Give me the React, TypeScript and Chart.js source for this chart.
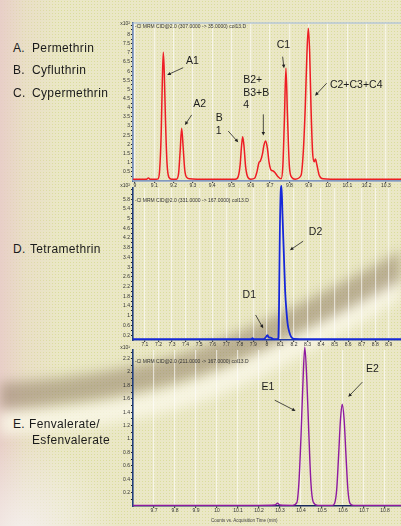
import React, { useEffect, useRef } from "react";
import { Chart, registerables } from "chart.js";
Chart.register(...registerables);

// ---------- Panel 1 : Permethrin / Cyfluthrin / Cypermethrin (x10^2 counts) ----------
const p1Time = [8.99, 9.03, 9.06, 9.07, 9.08, 9.11, 9.12, 9.128, 9.136, 9.142, 9.147, 9.152, 9.158, 9.166, 9.176, 9.19, 9.215, 9.226, 9.234, 9.242, 9.25, 9.258, 9.268, 9.285, 9.33, 9.4, 9.48, 9.52, 9.535, 9.545, 9.552, 9.558, 9.565, 9.573, 9.585, 9.6, 9.62, 9.632, 9.642, 9.65, 9.66, 9.668, 9.677, 9.686, 9.695, 9.705, 9.716, 9.726, 9.74, 9.757, 9.766, 9.774, 9.782, 9.79, 9.8, 9.812, 9.83, 9.86, 9.872, 9.882, 9.891, 9.898, 9.905, 9.912, 9.92, 9.928, 9.935, 9.942, 9.955, 9.975, 10.02, 10.1, 10.2, 10.3, 10.38];
const p1Val = [0.09, 0.09, 0.1, 0.16, 0.09, 0.1, 0.12, 0.6, 2.6, 5.5, 7.03, 5.9, 3.4, 1.0, 0.2, 0.1, 0.1, 0.4, 1.6, 2.88, 1.8, 0.6, 0.2, 0.12, 0.1, 0.09, 0.1, 0.1, 0.25, 0.9, 1.9, 2.42, 1.9, 0.8, 0.2, 0.1, 0.15, 0.5, 1.0, 1.1, 1.45, 1.95, 2.19, 1.8, 1.0, 0.6, 0.55, 0.45, 0.25, 0.12, 0.8, 3.3, 6.16, 3.6, 0.8, 0.2, 0.1, 0.3, 1.6, 4.0, 7.0, 8.34, 7.0, 4.0, 1.6, 1.05, 1.2, 0.9, 0.3, 0.12, 0.1, 0.09, 0.1, 0.09, 0.09];
const p1XTicks = [9, 9.1, 9.2, 9.3, 9.4, 9.5, 9.6, 9.7, 9.8, 9.9, 10, 10.1, 10.2, 10.3];
const p1YMarks = [0.25, 0.5, 0.75, 1, 1.25, 1.5, 1.75, 2, 2.25, 2.5, 2.75, 3, 3.25, 3.5, 3.75, 4, 4.25, 4.5, 4.75, 5, 5.25, 5.5, 5.75, 6, 6.25, 6.5, 6.75, 7, 7.25, 7.5, 7.75, 8, 8.25, 8.5];
const p1YLabels = [0.5, 1, 1.5, 2, 2.5, 3, 3.5, 4, 4.5, 5, 5.5, 6, 6.5, 7, 7.5, 8];
const p1Notes = [
  { t: 9.264, v: 6.38, s: "A1" },
  { t: 9.302, v: 4.06, s: "A2" },
  { t: 9.418, v: 3.28, s: "B" },
  { t: 9.418, v: 2.58, s: "1" },
  { t: 9.561, v: 5.34, s: "B2+" },
  { t: 9.561, v: 4.64, s: "B3+B" },
  { t: 9.561, v: 3.97, s: "4" },
  { t: 9.734, v: 7.25, s: "C1" },
  { t: 10.01, v: 5.07, s: "C2+C3+C4" },
];
const p1Arrows = [
  [9.25, 6.19, 9.167, 5.79],
  [9.294, 3.61, 9.259, 3.06],
  [9.483, 2.73, 9.535, 2.11],
  [9.665, 3.64, 9.665, 2.48],
  [9.765, 6.79, 9.772, 6.16],
  [9.993, 5.34, 9.933, 4.66],
];

// ---------- Panel 2 : Tetramethrin (x10^2 counts) ----------
const p2Time = [7.012, 7.4, 7.8, 7.885, 7.894, 7.903, 7.975, 7.99, 8.0, 8.005, 8.012, 8.022, 8.035, 8.05, 8.08, 8.085, 8.09, 8.096, 8.103, 8.108, 8.115, 8.125, 8.135, 8.145, 8.155, 8.165, 8.18, 8.2, 8.3, 8.6, 8.99];
const p2Val = [0.04, 0.04, 0.04, 0.04, 0.08, 0.04, 0.04, 0.1, 0.18, 0.2, 0.12, 0.1, 0.08, 0.04, 0.04, 0.1, 1.5, 4.5, 6.2, 6.35, 5.2, 3.6, 2.0, 1.16, 0.6, 0.34, 0.12, 0.05, 0.04, 0.04, 0.04];
const p2XTicks = [7.1, 7.2, 7.3, 7.4, 7.5, 7.6, 7.7, 7.8, 7.9, 8, 8.1, 8.2, 8.3, 8.4, 8.5, 8.6, 8.7, 8.8, 8.9];
const p2YMarks = [0.2, 0.4, 0.6, 0.8, 1, 1.2, 1.4, 1.6, 1.8, 2, 2.2, 2.4, 2.6, 2.8, 3, 3.2, 3.4, 3.6, 3.8, 4, 4.2, 4.4, 4.6, 4.8, 5, 5.2, 5.4, 5.6, 5.8, 6, 6.2];
const p2YLabels = [0.2, 0.6, 1, 1.4, 1.8, 2.2, 2.6, 3, 3.4, 3.8, 4.2, 4.6, 5, 5.4, 5.8];
const p2Notes = [
  { t: 8.31, v: 4.32, s: "D2" },
  { t: 7.821, v: 1.72, s: "D1" },
];
const p2Arrows = [
  [8.268, 4.07, 8.17, 3.7],
  [7.917, 1.03, 7.973, 0.48],
];

// ---------- Panel 3 : Fenvalerate / Esfenvalerate (x10^1 counts) ----------
const p3Time = [9.6, 9.9, 10.2, 10.275, 10.288, 10.3, 10.36, 10.38, 10.39, 10.4, 10.408, 10.418, 10.428, 10.437, 10.447, 10.458, 10.48, 10.55, 10.56, 10.57, 10.579, 10.588, 10.596, 10.605, 10.614, 10.623, 10.633, 10.65, 10.876];
const p3Val = [0.01, 0.01, 0.01, 0.015, 0.04, 0.015, 0.01, 0.05, 0.35, 1.05, 1.75, 2.37, 1.85, 1.1, 0.35, 0.06, 0.01, 0.01, 0.04, 0.25, 0.76, 1.3, 1.52, 1.3, 0.76, 0.25, 0.04, 0.01, 0.01];
const p3XTicks = [9.7, 9.8, 9.9, 10, 10.1, 10.2, 10.3, 10.4, 10.5, 10.6, 10.7, 10.8];
const p3YMarks = [0.1, 0.2, 0.3, 0.4, 0.5, 0.6, 0.7, 0.8, 0.9, 1, 1.1, 1.2, 1.3, 1.4, 1.5, 1.6, 1.7, 1.8, 1.9, 2, 2.1, 2.2, 2.3];
const p3YLabels = [0.2, 0.4, 0.6, 0.8, 1, 1.2, 1.4, 1.6, 1.8, 2, 2.2];
const p3Notes = [
  { t: 10.212, v: 1.74, s: "E1" },
  { t: 10.709, v: 2.0, s: "E2" },
];
const p3Arrows = [
  [10.275, 1.58, 10.374, 1.42],
  [10.692, 1.85, 10.625, 1.63],
];

const FONT = '"Liberation Sans", Arial, sans-serif';

type Panel = {
  time: number[];
  val: number[];
  xMin: number;
  xMax: number;
  yMax: number;
  xTicks: number[];
  yMarks: number[];
  yLabels: number[];
  notes: { t: number; v: number; s: string }[];
  arrows: number[][];
  color: string;
  lw: number;
  header: string;
  headerDy: number;
  exp: string;
  expDy: number;
  frame: boolean;
  xBorder: string;
  left: number;
  top: number;
  width: number;
  height: number;
  padTop: number;
};

const fmt = (v: number) => String(Math.round(v * 100) / 100);

function makePlugin(p: Panel) {
  return {
    id: "annot",
    beforeDatasetsDraw(chart: any) {
      if (!p.frame) return;
      const { ctx, chartArea } = chart;
      ctx.save();
      ctx.strokeStyle = "#a9bfdc";
      ctx.lineWidth = 1.2;
      ctx.strokeRect(chartArea.left, chartArea.top, chartArea.right - chartArea.left + 5, chartArea.bottom - chartArea.top);
      ctx.restore();
    },
    afterDatasetsDraw(chart: any) {
      const { ctx, chartArea } = chart;
      const x = chart.scales.x;
      const y = chart.scales.y;
      ctx.save();
      ctx.fillStyle = "#1c1c1c";
      ctx.font = `10.5px ${FONT}`;
      ctx.textBaseline = "alphabetic";
      ctx.textAlign = "left";
      for (const n of p.notes) {
        ctx.fillText(n.s, x.getPixelForValue(n.t), y.getPixelForValue(n.v));
      }
      ctx.strokeStyle = "#222";
      ctx.fillStyle = "#222";
      ctx.lineWidth = 0.8;
      for (const a of p.arrows) {
        const x1 = x.getPixelForValue(a[0]);
        const y1 = y.getPixelForValue(a[1]);
        const x2 = x.getPixelForValue(a[2]);
        const y2 = y.getPixelForValue(a[3]);
        const ang = Math.atan2(y2 - y1, x2 - x1);
        const hl = 4;
        ctx.beginPath();
        ctx.moveTo(x1, y1);
        ctx.lineTo(x2 - Math.cos(ang) * 2, y2 - Math.sin(ang) * 2);
        ctx.stroke();
        ctx.beginPath();
        ctx.moveTo(x2, y2);
        ctx.lineTo(x2 - hl * Math.cos(ang - 0.45), y2 - hl * Math.sin(ang - 0.45));
        ctx.lineTo(x2 - hl * Math.cos(ang + 0.45), y2 - hl * Math.sin(ang + 0.45));
        ctx.closePath();
        ctx.fill();
      }
      ctx.fillStyle = "#333";
      ctx.font = `5px ${FONT}`;
      ctx.fillText(p.header, chartArea.left + 2, chartArea.top + p.headerDy);
      ctx.textAlign = "right";
      ctx.fillText(p.exp, chartArea.left - 3, chartArea.top + p.expDy);
      ctx.restore();
    },
  };
}

function makeConfig(p: Panel): any {
  const near = (arr: number[], v: number) => arr.some((a) => Math.abs(a - v) < 1e-6);
  return {
    type: "line",
    data: {
      datasets: [
        {
          data: p.time.map((t, i) => ({ x: t, y: p.val[i] })),
          borderColor: p.color,
          borderWidth: p.lw,
          pointRadius: 0,
          tension: 0.4,
          cubicInterpolationMode: "monotone",
          fill: false,
          clip: false,
        },
      ],
    },
    options: {
      animation: false,
      responsive: false,
      maintainAspectRatio: false,
      layout: { padding: { top: p.padTop, left: 0, right: 0, bottom: 0 } },
      plugins: { legend: { display: false }, tooltip: { enabled: false }, title: { display: false } },
      scales: {
        x: {
          type: "linear",
          min: p.xMin,
          max: p.xMax,
          afterBuildTicks: (s: any) => {
            s.ticks = p.xTicks.map((v) => ({ value: v }));
          },
          afterFit: (s: any) => {
            s.height = 9;
          },
          ticks: {
            font: { size: 5, family: FONT },
            color: "#333",
            padding: 0,
            maxRotation: 0,
            autoSkip: false,
            callback: (v: number) => fmt(v),
          },
          grid: {
            display: true,
            drawOnChartArea: true,
            color: "rgba(255,255,255,0.6)",
            lineWidth: 1.2,
            drawTicks: true,
            tickLength: 2,
            tickColor: "#444",
          },
          border: { display: true, color: p.xBorder, width: 1.5 },
        },
        y: {
          type: "linear",
          min: 0,
          max: p.yMax,
          afterBuildTicks: (s: any) => {
            s.ticks = p.yMarks.map((v) => ({ value: v }));
          },
          afterFit: (s: any) => {
            s.width = 33;
          },
          ticks: {
            font: { size: 5, family: FONT },
            color: "#333",
            padding: 1,
            autoSkip: false,
            callback: (v: number) => (near(p.yLabels, v) ? fmt(v) : ""),
          },
          grid: {
            display: true,
            drawOnChartArea: false,
            drawTicks: true,
            tickLength: 2,
            tickColor: "#222",
          },
          border: { display: true, color: "#213f7c", width: 1.6 },
        },
      },
    },
    plugins: [makePlugin(p)],
  };
}

const panels: Panel[] = [
  {
    time: p1Time, val: p1Val, xMin: 8.99, xMax: 10.378, yMax: 8.63,
    xTicks: p1XTicks, yMarks: p1YMarks, yLabels: p1YLabels,
    notes: p1Notes, arrows: p1Arrows, color: "#ee1d24", lw: 1.5,
    header: "-Cl MRM CID@2.0 (307.0000 -> 35.0000) col13.D", headerDy: 4.5,
    exp: "x10²", expDy: 2, frame: true, xBorder: "#4d628f",
    left: 100, top: 18, width: 301, height: 172, padTop: 5,
  },
  {
    time: p2Time, val: p2Val, xMin: 7.012, xMax: 8.99, yMax: 6.26,
    xTicks: p2XTicks, yMarks: p2YMarks, yLabels: p2YLabels,
    notes: p2Notes, arrows: p2Arrows, color: "#1628d8", lw: 1.8,
    header: "-Cl MRM CID@2.0 (331.0000 -> 167.0000) col13.D", headerDy: 14,
    exp: "x10²", expDy: -1, frame: false, xBorder: "#1f3aa8",
    left: 100, top: 183, width: 301, height: 166, padTop: 5,
  },
  {
    time: p3Time, val: p3Val, xMin: 9.6, xMax: 10.876, yMax: 2.33,
    xTicks: p3XTicks, yMarks: p3YMarks, yLabels: p3YLabels,
    notes: p3Notes, arrows: p3Arrows, color: "#8e1aa0", lw: 1.4,
    header: "-Cl MRM CID@2.0 (211.0000 -> 167.0000) col13.D", headerDy: 13,
    exp: "x10¹", expDy: -1, frame: false, xBorder: "#1b2a5e",
    left: 100, top: 345, width: 301, height: 170, padTop: 5,
  },
];

function PanelChart({ p, z }: { p: Panel; z: number }) {
  const ref = useRef<HTMLCanvasElement | null>(null);
  useEffect(() => {
    if (!ref.current) return;
    const chart = new Chart(ref.current, makeConfig(p));
    return () => chart.destroy();
  }, [p]);
  return (
    <canvas
      ref={ref}
      width={p.width}
      height={p.height}
      style={{ position: "absolute", left: p.left, top: p.top, width: p.width, height: p.height, zIndex: z }}
    />
  );
}

const labelStyle: React.CSSProperties = {
  position: "absolute",
  fontFamily: FONT,
  fontSize: 12,
  lineHeight: "12px",
  letterSpacing: 0.35,
  color: "#1a1a1a",
  whiteSpace: "nowrap",
  zIndex: 5,
};

export default function App() {
  return (
    <div
      style={{
        position: "absolute",
        left: 0,
        top: 0,
        width: 401,
        height: 526,
        overflow: "hidden",
        background: "#eae7c6",
      }}
    >
      {/* dotted texture */}
      <div
        style={{
          position: "absolute",
          inset: 0,
          backgroundImage: "radial-gradient(circle, rgba(205,214,120,0.55) 0.7px, rgba(0,0,0,0) 1px)",
          backgroundSize: "3px 3px",
        }}
      />
      {/* pinkish left fade */}
      <div
        style={{
          position: "absolute",
          inset: 0,
          background: "linear-gradient(to right, rgba(232,204,200,0.9) 0px, rgba(232,210,200,0.4) 25px, rgba(232,210,200,0) 60px)",
        }}
      />
      <div
        style={{
          position: "absolute",
          left: 0,
          top: 440,
          width: 120,
          height: 90,
          background: "radial-gradient(ellipse at 20% 100%, rgba(245,240,238,0.9), rgba(245,240,238,0) 70%)",
        }}
      />
      {/* decorative swoosh */}
      <svg width={401} height={526} style={{ position: "absolute", left: 0, top: 0, filter: "blur(6px)" }}>
        <path d="M -30 425 Q 140 420 232 378 T 430 268" stroke="rgba(250,248,232,0.8)" strokeWidth={22} fill="none" />
        <path d="M -30 397 Q 130 392 225 352 T 430 250" stroke="rgba(140,120,95,0.5)" strokeWidth={26} fill="none" />
      </svg>

      {panels.map((p, i) => (
        <PanelChart key={i} p={p} z={1 + i} />
      ))}

      <div style={{ ...labelStyle, left: 13, top: 42 }}>A.</div>
      <div style={{ ...labelStyle, left: 32, top: 42 }}>Permethrin</div>
      <div style={{ ...labelStyle, left: 13, top: 64 }}>B.</div>
      <div style={{ ...labelStyle, left: 32, top: 64 }}>Cyfluthrin</div>
      <div style={{ ...labelStyle, left: 13, top: 87 }}>C.</div>
      <div style={{ ...labelStyle, left: 32, top: 87 }}>Cypermethrin</div>
      <div style={{ ...labelStyle, left: 13, top: 243 }}>D.</div>
      <div style={{ ...labelStyle, left: 30, top: 243 }}>Tetramethrin</div>
      <div style={{ ...labelStyle, left: 13, top: 418 }}>E.</div>
      <div style={{ ...labelStyle, left: 29, top: 418 }}>Fenvalerate/</div>
      <div style={{ ...labelStyle, left: 32, top: 434 }}>Esfenvalerate</div>

      <div
        style={{
          position: "absolute",
          left: 211,
          top: 518,
          fontFamily: FONT,
          fontSize: 4.5,
          color: "#444",
          whiteSpace: "nowrap",
          zIndex: 6,
        }}
      >
        Counts vs. Acquisition Time (min)
      </div>
    </div>
  );
}
